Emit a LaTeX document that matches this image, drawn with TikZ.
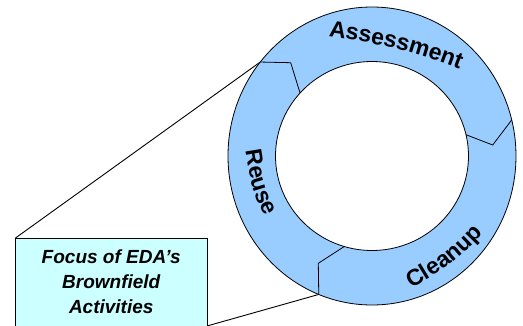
\documentclass[tikz,border=0pt]{standalone}
\usepackage{fontspec}
\newfontfamily\arialfont{Liberation Sans}
\usetikzlibrary{decorations.text}
\definecolor{ringblue}{RGB}{153,204,255}
\definecolor{focuscyan}{RGB}{204,255,255}
\newcommand{\ringfont}{\arialfont\bfseries\fontsize{23}{27}\selectfont}
\begin{document}
\begin{tikzpicture}[x=1pt,y=1pt,
    ringline/.style={line width=.8pt},
    ringtext/.style={decorate,decoration={text along path,text align=center,text={|\ringfont|#1}}},
    focusbox/.style={draw,fill=focuscyan,line width=.8pt,outer sep=0pt,align=center,font=\arialfont\bfseries\itshape\fontsize{19}{25}\selectfont}]
    \useasboundingbox (-372,-169) rectangle (151,156);
    \node[focusbox,anchor=north west,minimum width=191.5pt,minimum height=88pt] (focus) at (-356.5,-82) {Focus of EDA’s\\Brownfield\\Activities};
    \coordinate (reusetop) at (140.9:144pt and 149pt);
    \coordinate (reusebot) at (248.3:144pt and 149pt);
    \draw[line width=.9pt] (focus.north west) -- (reusetop);
    \draw[line width=.9pt] (focus.south east) -- (reusebot);
    \fill[ringblue,even odd rule] (0,0) ellipse [x radius=144pt,y radius=149pt] (0,0) ellipse [x radius=96.5pt,y radius=94.5pt];
    \draw[ringline] (0,0) ellipse [x radius=144pt,y radius=149pt];
    \draw[ringline] (0,0) ellipse [x radius=96.5pt,y radius=94.5pt];
    \draw[ringline] (reusetop) -- (-81.3,93.3) -- (138.2:96.5pt and 94.5pt);
    \draw[ringline] (14:144pt and 149pt) -- (120.7,11) -- (13:96.5pt and 94.5pt);
    \draw[ringline] (reusebot) -- (-53.7,-107.3) -- (253.3:96.5pt and 94.5pt);
    \path[ringtext=Assessment] (-45,120) to[out=-8,in=159] (89,86);
    \path[ringtext=Cleanup] (38,-133) to[out=28,in=-133] (112,-76);
    \path[ringtext=Reuse] (-127,8) to[out=-82,in=116] (-106,-63);
\end{tikzpicture}
\end{document}
